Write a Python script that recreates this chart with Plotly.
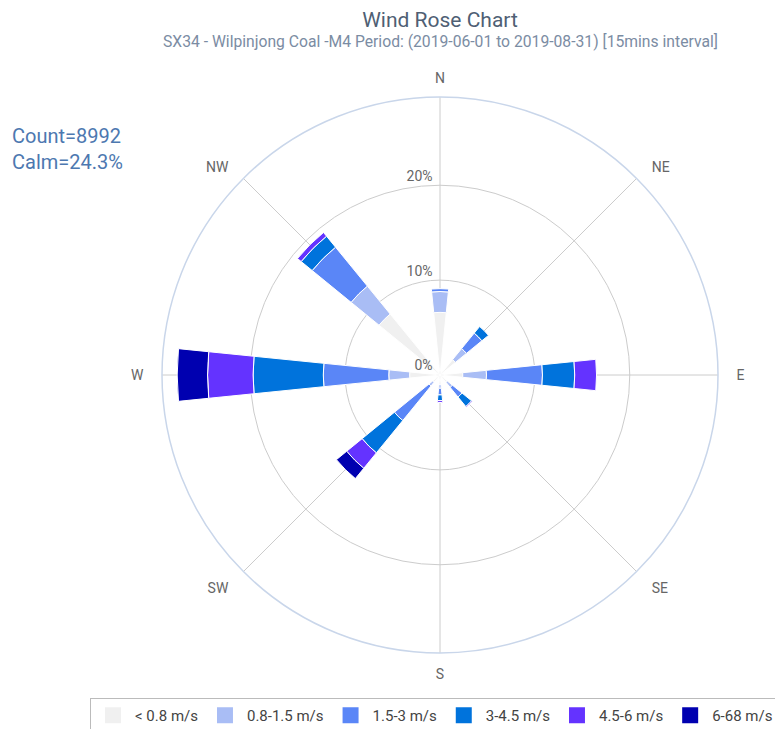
import plotly.graph_objects as go

directions = ["N", "NE", "E", "SE", "S", "SW", "W", "NW"]
dir_degrees = [0, 45, 90, 135, 180, 225, 270, 315]

speed_bins = ["< 0.8 m/s", "0.8-1.5 m/s", "1.5-3 m/s", "3-4.5 m/s", "4.5-6 m/s", "6-68 m/s"]
bin_colors = ["#f0f0f0", "#a9bdf5", "#5a86f7", "#0073dc", "#6433ff", "#0000b0"]

# percentage per direction (N, NE, E, SE, S, SW, W, NW)
calm_lt08 = [6.6, 2.1, 2.4, 1.0, 1.0, 1.0, 3.2, 8.3]
s08_15 = [2.2, 1.5, 2.5, 0.7, 0.4, 0.5, 2.2, 3.8]
s15_3 = [0.3, 2.1, 5.9, 1.3, 0.7, 4.7, 6.9, 5.3]
s3_45 = [0.0, 0.9, 3.4, 1.3, 0.6, 4.4, 7.4, 1.5]
s45_6 = [0.0, 0.0, 2.3, 0.1, 0.2, 2.1, 4.8, 0.5]
s6_68 = [0.0, 0.0, 0.0, 0.0, 0.0, 1.4, 3.2, 0.0]
series = [calm_lt08, s08_15, s15_3, s3_45, s45_6, s6_68]

radial_ticks = [0, 10, 20]
radial_labels = [f"{v}%<br> " for v in radial_ticks]
radial_max = 29.3

# pad east-side labels on the left and west-side labels on the right
NB = "\u00a0"
dir_labels = []
for d, deg in zip(directions, dir_degrees):
    if 0 < deg < 180:
        dir_labels.append(NB * 2 + d)
    elif 180 < deg < 360:
        dir_labels.append(d + NB * 2)
    else:
        dir_labels.append(d)

fig = go.Figure()
for name, vals, col in zip(speed_bins, series, bin_colors):
    fig.add_trace(go.Barpolar(
        r=vals, theta=dir_degrees, name=name, width=11.5,
        legendgroup=name, showlegend=False,
        marker=dict(color=col, line=dict(color="white", width=1)),
    ))
# legend entries (square swatches)
for name, col in zip(speed_bins, bin_colors):
    fig.add_trace(go.Scatterpolar(
        r=[None], theta=[None], mode="markers", name=name, legendgroup=name,
        marker=dict(symbol="square", size=18, color=col),
        hoverinfo="skip",
    ))

W, H = 783, 729
OX, OY = 8, 8  # page body offset
cx, cy, rad = 440 - OX, 375 - OY, 278

fig.update_layout(
    width=W, height=H,
    margin=dict(l=0, r=0, t=0, b=0),
    paper_bgcolor="white",
    font=dict(family="Roboto, Arial, sans-serif", color="#666"),
    title=dict(
        text="Wind Rose Chart",
        font=dict(size=21, color="#4f5f74"),
        x=(440 - OX) / W, xanchor="center", xref="paper",
        y=1 - (20 - OY) / H, yanchor="middle", yref="container",
    ),
    polar=dict(
        domain=dict(x=[(cx - rad) / W, (cx + rad) / W],
                    y=[(H - (cy + rad)) / H, (H - (cy - rad)) / H]),
        bgcolor="white",
        barmode="stack",
        angularaxis=dict(
            rotation=90, direction="clockwise",
            tickmode="array", tickvals=dir_degrees, ticktext=dir_labels,
            linecolor="#c9d6ea", linewidth=1.5,
            gridcolor="#cccccc", ticks="outside", ticklen=8,
            tickcolor="rgba(0,0,0,0)",
            tickfont=dict(size=14, color="#666"),
        ),
        radialaxis=dict(
            range=[0, radial_max], tickmode="array", tickvals=radial_ticks,
            ticktext=radial_labels, angle=90, tickangle=90,
            side="counterclockwise",
            showline=False, gridcolor="#cccccc",
            ticks="outside", ticklen=2, tickcolor="rgba(0,0,0,0)",
            tickfont=dict(size=14, color="#666"),
        ),
    ),
    legend=dict(
        orientation="h", x=(90 - OX) / W, xanchor="left",
        y=(H - (698 - OY)) / H, yanchor="top",
        bordercolor="#bbbbbb", borderwidth=1,
        font=dict(size=15, color="#444"),
        itemwidth=34,
        traceorder="normal",
    ),
    annotations=[
        dict(
            text="SX34 - Wilpinjong Coal -M4 Period: (2019-06-01 to 2019-08-31) [15mins interval]",
            x=(440 - OX) / W, xref="paper", xanchor="center",
            y=1 - (41 - OY) / H, yref="paper", yanchor="middle",
            showarrow=False, font=dict(size=15.7, color="#7b8ca3"),
        ),
        dict(
            text="Count=8992<br>Calm=24.3%",
            x=2 / W, xref="paper", xanchor="left",
            y=1 - (148.5 - OY) / H, yref="paper", yanchor="middle",
            showarrow=False, align="left",
            font=dict(size=20, color="#4d78b0"),
        ),
    ],
)

fig.write_html("out.html")
